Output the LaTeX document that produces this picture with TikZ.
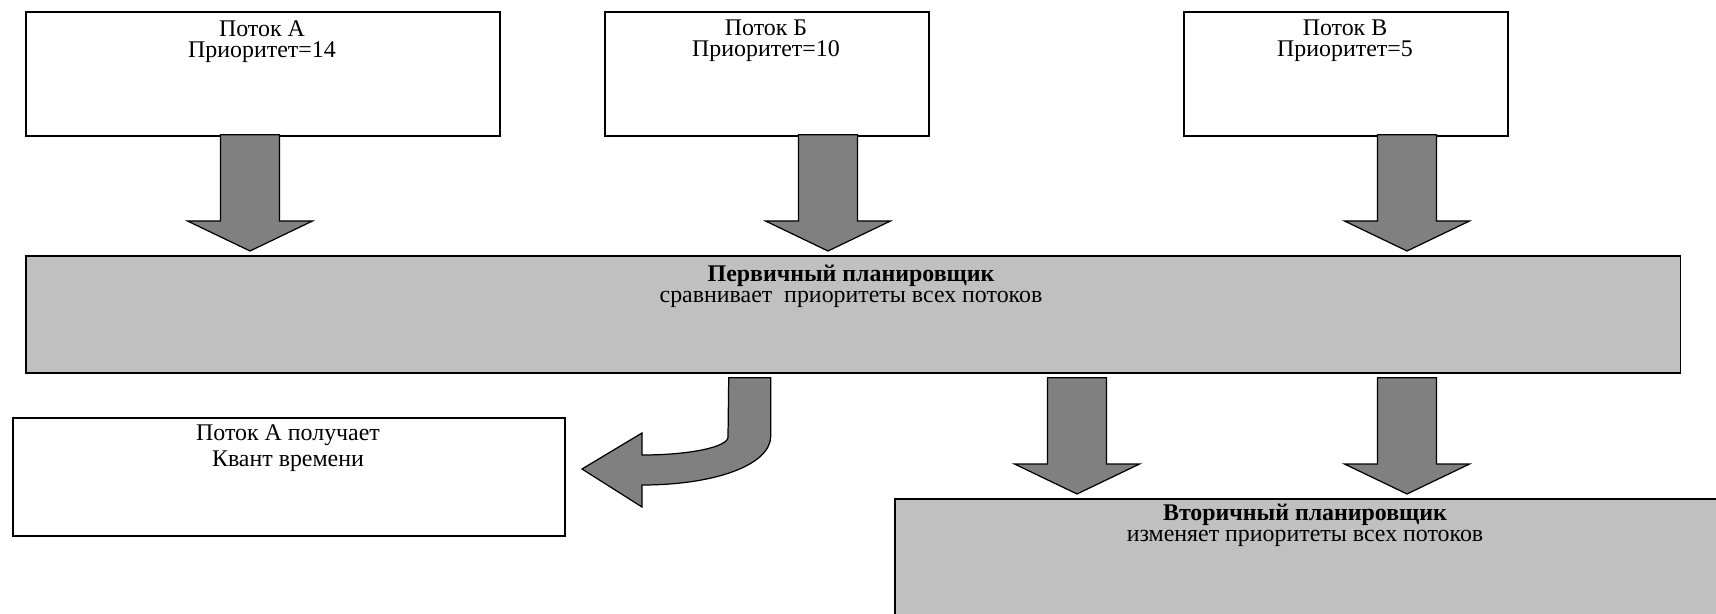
\documentclass[tikz,border=0pt]{standalone}
\usepackage{fontspec}
\setmainfont{Liberation Serif}
\usetikzlibrary{calc}

\definecolor{schedgray}{RGB}{192,192,192}
\definecolor{arrowgray}{RGB}{128,128,128}

% fat arrow pointing down: x, from node, to node, gap below from node
\newcommand{\downblock}[4]{%
  \path (#1,0) coordinate (bx);
  \coordinate (s) at (bx |- #2.south);
  \coordinate (t) at (bx |- #3.north);
  \draw[bigarrow] ($(s)+(-29.5,#4)$) -- ($(s)+(29.5,#4)$) -- ($(t)+(29.5,-34)$) -- ($(t)+(62.5,-34)$)
    -- ($(t)+(0,-4)$) -- ($(t)+(-62.5,-34)$) -- ($(t)+(-29.5,-34)$) -- cycle;
}

\begin{document}
\begin{tikzpicture}[x=0.02cm, y=-0.02cm,
  box/.style={draw, line width=1pt, inner sep=0pt, anchor=north west},
  sched/.style={box, fill=schedgray},
  bigarrow/.style={draw, line width=0.7pt, fill=arrowgray},
  lbl/.style={align=center, anchor=north, inner sep=0pt, font=\fontsize{13.6}{11.9}\selectfont}]
\clip (0,0) rectangle (1716,614);

% threads
\node[box, minimum width=9.48cm, minimum height=2.48cm] (thrA) at (25,11) {};
\node[box, minimum width=6.48cm, minimum height=2.48cm] (thrB) at (604,11) {};
\node[box, minimum width=6.48cm, minimum height=2.48cm] (thrC) at (1183,11) {};
\node[lbl] (thrAtxt) at (262,20) {Поток А\\Приоритет=14};
\node[lbl] (thrBtxt) at (766,20) {Поток Б\\Приоритет=10};
\node[lbl] (thrCtxt) at (1345,20) {Поток В\\Приоритет=5};

% schedulers
\node[sched, minimum width=33.1cm, minimum height=2.34cm] (prim) at (25,255) {};
\node[lbl, font=\fontsize{13.6}{11.7}\selectfont] (primtxt) at (851,265) {\textbf{Первичный планировщик}\\сравнивает~ приоритеты всех потоков};
\node[sched, minimum width=16.8cm, minimum height=2.8cm] (sec) at (894,498) {};
\node[lbl] (sectxt) at (1305,504) {\textbf{Вторичный планировщик}\\изменяет приоритеты всех потоков};

\node[box, minimum width=11.04cm, minimum height=2.36cm] (quant) at (12,417) {};
\node[lbl, font=\fontsize{13.6}{14.8}\selectfont] (quanttxt) at (288,424) {Поток А получает\\Квант времени};

% arrows
\downblock{250}{thrA}{prim}{-2}
\downblock{828}{thrB}{prim}{-2}
\downblock{1407}{thrC}{prim}{-2}
\downblock{1077}{prim}{sec}{4}
\downblock{1407}{prim}{sec}{4}

% bent arrow to thread A
\coordinate (bend) at ($(prim.south)+(-124.5,4)$);
\draw[bigarrow] (bend) -- ++(42,0) -- ++(0,59) .. controls (770,465) and (715,485) .. (642,485)
  -- (642,507) -- (582,469) -- (642,433) -- (642,455) .. controls (690,455) and (728,447) .. (728,437) -- cycle;
\end{tikzpicture}
\end{document}
